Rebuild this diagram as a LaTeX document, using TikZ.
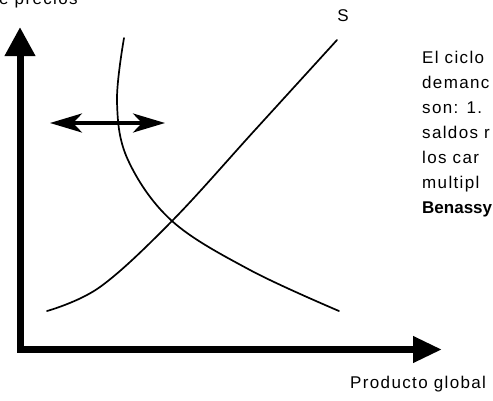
\documentclass[tikz,border=0pt]{standalone}
\usepackage{fontspec}
\setmainfont{Liberation Sans}
\newfontfamily\notefont[LetterSpace=8]{Liberation Sans}
\usetikzlibrary{arrows.meta,positioning}

\begin{document}
\begin{tikzpicture}[
  x=1pt, y=-1pt,
  axisline/.style={
    line width=7pt,
    {Triangle[length=29pt,width=29pt]}-{Triangle[length=29pt,width=25pt]}
  },
  shiftarrow/.style={
    line width=3.6pt,
    {Stealth[length=32pt,width=19pt,inset=9pt]}-{Stealth[length=32pt,width=19pt,inset=9pt]}
  },
  curveline/.style={
    line width=1.7pt,
    line cap=round
  },
  notetext/.style={
    font=\notefont\fontsize{17}{25}\selectfont,
    align=left,
    inner sep=0pt,
    anchor=base west
  },
  axistext/.style={
    font=\notefont\fontsize{17}{20}\selectfont,
    inner sep=0pt
  }
]
  \useasboundingbox (0,0) rectangle (493,400);
  \clip (0,0) rectangle (493,400);

  % ----------------------------------------------------
  % AXES
  % ----------------------------------------------------
  \coordinate (origin) at (20,349.5);
  \coordinate (ytip) at (20,27);
  \coordinate (xtip) at (442,349.5);
  \draw[axisline] (ytip) |- (xtip);

  \node[axistext, anchor=base west] (pricelabel) at (-1,4) {e precios};
  \node[axistext, anchor=base west] (outputlabel) at (350,388) {Producto global};

  % ----------------------------------------------------
  % CURVES
  % ----------------------------------------------------
  % demand
  \draw[curveline] plot[smooth, tension=0.6] coordinates
    {(124,38) (117,102) (128,160) (172,221) (250,270) (339,311)};
  % supply
  \draw[curveline] plot[smooth, tension=0.6] coordinates
    {(47,311) (100,287) (172,221) (255,130) (337,40)};
  \node[axistext] (supplylabel) at (343,16) {S};

  % shift of the demand curve
  \coordinate (shiftleft) at (50,123);
  \coordinate (shiftright) at (165,123);
  \draw[shiftarrow] (shiftleft) -- (shiftright);

  % ----------------------------------------------------
  % SIDE NOTE (last line on the anchor)
  % ----------------------------------------------------
  \node[notetext] (sidenote) at (422,213) {El ciclo\\demanc\\son: 1.\\saldos r\\los car\\multipl\\{\bfseries\addfontfeature{LetterSpace=0}Benassy}};

\end{tikzpicture}
\end{document}
